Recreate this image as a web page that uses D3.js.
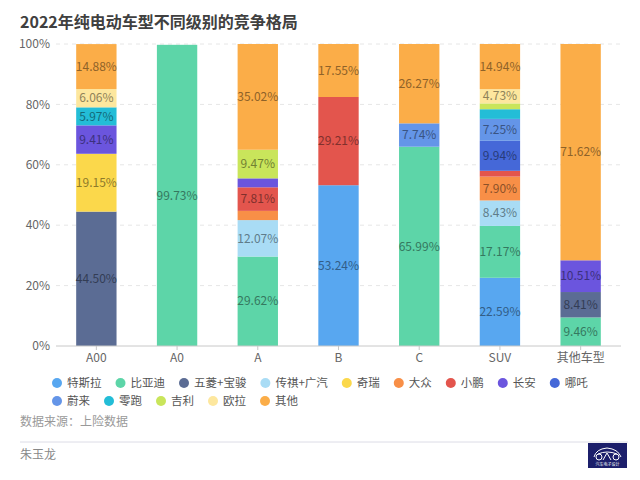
<!DOCTYPE html>
<html>
<head>
<meta charset="utf-8">
<script src="https://cdn.jsdelivr.net/npm/d3@7"></script>
<style>
  body { margin: 0; background: #fff; }
  svg text { font-family: "Noto Sans CJK SC", "Noto Sans", sans-serif; }
</style>
</head>
<body>
<svg id="paper"></svg>
<script>
// categories (x axis)
let categories = ["A00", "A0", "A", "B", "C", "SUV", "其他车型"];

// brands, bottom to top of each bar
let brands = ["特斯拉", "比亚迪", "五菱+宝骏", "传祺+广汽", "奇瑞", "大众", "小鹏",
              "长安", "哪吒", "蔚来", "零跑", "吉利", "欧拉", "其他"];

let brandColors = ["#58a7f0", "#5dd5a8", "#5b6c94", "#a9dcf5", "#fbd84b", "#f88f47", "#e3554d",
                   "#6b55de", "#4568d8", "#6495e8", "#23bdd7", "#c9e55b", "#fde79e", "#fbad48"];

// share (%) per brand, one value per category
let shares = [
    [0,     0,     0,     53.24, 0,     22.59, 0],     // 特斯拉
    [0,     99.73, 29.62, 0,     65.99, 17.17, 9.46],  // 比亚迪
    [44.50, 0,     0,     0,     0,     0,     8.41],  // 五菱+宝骏
    [0,     0,     12.07, 0,     0,     8.43,  0],     // 传祺+广汽
    [19.15, 0,     0,     0,     0,     0,     0],     // 奇瑞
    [0,     0,     3.05,  0,     0,     7.90,  0],     // 大众
    [0,     0,     7.81,  29.21, 0,     1.92,  0],     // 小鹏
    [9.41,  0,     2.96,  0,     0,     0,     10.51], // 长安
    [0,     0,     0,     0,     0,     9.94,  0],     // 哪吒
    [0,     0,     0,     0,     7.74,  7.25,  0],     // 蔚来
    [5.97,  0,     0,     0,     0,     3.20,  0],     // 零跑
    [0,     0,     9.47,  0,     0,     1.93,  0],     // 吉利
    [6.06,  0,     0,     0,     0,     4.73,  0],     // 欧拉
    [14.88, 0,     35.02, 17.55, 26.27, 14.94, 71.62]  // 其他
];

let yTicks = [0, 20, 40, 60, 80, 100];

let W = 640, H = 480;
let margin = {top: 44, right: 19, bottom: 134, left: 56};

let svg = d3.select("#paper")
    .attr("width", W)
    .attr("height", H);

// title
svg.append("text")
    .attr("x", 20)
    .attr("y", 28)
    .attr("fill", "#404040")
    .style("font-size", "16px")
    .style("font-weight", "bold")
    .text("2022年纯电动车型不同级别的竞争格局");

let x = d3.scaleBand()
    .domain(categories)
    .range([margin.left, W - margin.right])
    .paddingInner(0.5)
    .paddingOuter(0.25);

let y = d3.scaleLinear()
    .domain([0, 100])
    .range([H - margin.bottom, margin.top]);

let color = d3.scaleOrdinal().domain(brands).range(brandColors);

// grid + y labels
let grid = svg.append("g");
grid.selectAll("line")
    .data(yTicks.filter(d => d > 0))
    .enter()
    .append("line")
    .attr("x1", margin.left)
    .attr("x2", W - margin.right)
    .attr("y1", d => y(d))
    .attr("y2", d => y(d))
    .attr("stroke", "#e6e6e6")
    .attr("stroke-dasharray", "4,4");

grid.selectAll("text")
    .data(yTicks)
    .enter()
    .append("text")
    .attr("x", 50)
    .attr("y", d => y(d))
    .attr("dy", "0.35em")
    .attr("text-anchor", "end")
    .attr("fill", "#666")
    .style("font-size", "12px")
    .text(d => d + "%");

// stacked data
let table = categories.map((c, i) => {
    let row = {category: c};
    brands.forEach((b, j) => row[b] = shares[j][i]);
    return row;
});
let series = d3.stack().keys(brands)(table);

let layers = svg.append("g")
    .selectAll("g")
    .data(series)
    .enter()
    .append("g")
    .attr("fill", d => color(d.key));

layers.selectAll("rect")
    .data(d => d.map(p => ({key: d.key, p: p})))
    .enter()
    .filter(d => d.p[1] - d.p[0] > 0)
    .append("rect")
    .attr("x", d => x(d.p.data.category))
    .attr("width", x.bandwidth())
    .attr("y", d => y(d.p[1]))
    .attr("height", d => y(d.p[0]) - y(d.p[1]));

layers.selectAll("text")
    .data(d => d.map(p => ({key: d.key, p: p})))
    .enter()
    .filter(d => d.p[1] - d.p[0] >= 4)
    .append("text")
    .attr("x", d => x(d.p.data.category) + x.bandwidth() / 2)
    .attr("y", d => y((d.p[0] + d.p[1]) / 2))
    .attr("dy", "0.35em")
    .attr("text-anchor", "middle")
    .attr("fill", d => d3.color(color(d.key)).darker(1.6))
    .style("font-size", "12px")
    .text(d => (d.p[1] - d.p[0]).toFixed(2) + "%");

// x axis
let xAxis = svg.append("g")
    .attr("transform", "translate(0," + y(0) + ")");
xAxis.append("line")
    .attr("x1", margin.left)
    .attr("x2", W - margin.right)
    .attr("stroke", "#c8c8c8");
xAxis.selectAll(".tick")
    .data(categories)
    .enter()
    .append("line")
    .attr("x1", d => x(d) + x.bandwidth() / 2)
    .attr("x2", d => x(d) + x.bandwidth() / 2)
    .attr("y2", 4)
    .attr("stroke", "#c8c8c8");
xAxis.selectAll("text")
    .data(categories)
    .enter()
    .append("text")
    .attr("x", d => x(d) + x.bandwidth() / 2)
    .attr("y", 16)
    .attr("text-anchor", "middle")
    .attr("fill", "#666")
    .style("font-size", "12px")
    .text(d => d);

// legend, flowing in rows
let legend = svg.append("g");
let lx = 57, ly = 383, maxX = 630;
brands.forEach((b, i) => {
    let item = legend.append("g");
    let t = item.append("text")
        .attr("x", 10)
        .attr("dy", "0.35em")
        .attr("fill", "#555")
        .style("font-size", "11.5px")
        .text(b);
    let w = t.node().getComputedTextLength();
    if (lx + 10 + w > maxX) {
        lx = 57;
        ly += 18;
    }
    item.attr("transform", "translate(" + lx + "," + ly + ")");
    item.append("circle")
        .attr("r", 5)
        .attr("fill", brandColors[i]);
    lx += 10 + w + 19;
});

// footer
svg.append("text")
    .attr("x", 20)
    .attr("y", 422)
    .attr("dy", "0.35em")
    .attr("fill", "#999")
    .style("font-size", "12px")
    .text("数据来源：上险数据");

svg.append("line")
    .attr("x1", 20)
    .attr("x2", 628)
    .attr("y1", 442)
    .attr("y2", 442)
    .attr("stroke", "#dcdce6");

svg.append("text")
    .attr("x", 20)
    .attr("y", 455)
    .attr("dy", "0.35em")
    .attr("fill", "#888")
    .style("font-size", "12px")
    .text("朱玉龙");

// logo badge
let logo = svg.append("g").attr("transform", "translate(588,443)");
logo.append("rect")
    .attr("width", 39)
    .attr("height", 25)
    .attr("fill", "#1c1f6b");
logo.append("path")
    .attr("d", "M6,14 Q8,6 19,5 Q30,6 33,14 M10,11 Q19,7 29,11")
    .attr("fill", "none")
    .attr("stroke", "#fff")
    .attr("stroke-width", 1);
logo.append("circle").attr("cx", 11).attr("cy", 14).attr("r", 3)
    .attr("fill", "none").attr("stroke", "#fff").attr("stroke-width", 1);
logo.append("circle").attr("cx", 28).attr("cy", 14).attr("r", 3)
    .attr("fill", "none").attr("stroke", "#fff").attr("stroke-width", 1);
logo.append("path")
    .attr("d", "M15,17 L19,10 L23,17")
    .attr("fill", "none")
    .attr("stroke", "#fff")
    .attr("stroke-width", 1);
logo.append("text")
    .attr("x", 19.5)
    .attr("y", 22.5)
    .attr("text-anchor", "middle")
    .attr("fill", "#fff")
    .style("font-size", "4px")
    .text("汽车电子设计");
</script>
</body>
</html>
